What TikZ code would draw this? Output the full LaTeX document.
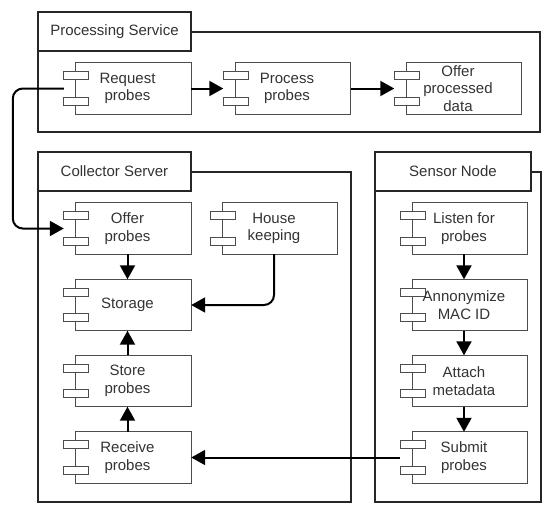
\documentclass[tikz,border=0pt]{standalone}
\usepackage{fontspec}
\setmainfont{Liberation Sans}
\usetikzlibrary{arrows.meta,backgrounds}

\begin{document}
\begin{tikzpicture}[x=1pt,y=-1pt,
  every node/.style={font=\fontsize{15}{17.5}\selectfont,text=black!80},
  frame/.style={draw=black!85,line width=2pt},
  tab/.style={frame,fill=white,minimum height=39pt,inner sep=0pt},
  comp/.style={minimum width=127pt,minimum height=51pt,inner sep=0pt,align=center},
  part/.style={draw=black!70,line width=1.3pt,fill=white},
  flow/.style={draw=black,line width=2pt,-{Triangle[length=14pt,width=15pt]}}]
\useasboundingbox (0,0) rectangle (550,512);

\draw[frame] (38,31.5) rectangle (540,132);
\draw[frame] (38,172) rectangle (351,502);
\draw[frame] (375,171.5) rectangle (541,502);
\node[tab,minimum width=153pt] (pstab) at (114.5,31.5) {Processing Service};
\node[tab,minimum width=153pt] (cstab) at (114.5,171.5) {Collector Server};
\node[tab,minimum width=156pt] (sntab) at (453,171.5) {Sensor Node};

\node[comp] (req) at (127.5,88.5) {Request\\probes};
\node[comp] (proc) at (287,88.5) {Process\\probes};
\node[comp] (offd) at (458,88.5) {Offer\\processed\\data};

\node[comp] (off) at (127.5,228.5) {Offer\\probes};
\node[comp] (hk) at (274,228.5) {House\\keeping};
\node[comp] (sto) at (127.5,305) {Storage};
\node[comp] (stp) at (127.5,381) {Store\\probes};
\node[comp] (rcv) at (127.5,457.5) {Receive\\probes};

\node[comp] (lis) at (464,228.5) {Listen for\\probes};
\node[comp] (ano) at (464,305) {Annonymize\\MAC ID};
\node[comp] (att) at (464,381) {Attach\\metadata};
\node[comp] (sub) at (464,457.5) {Submit\\probes};

\begin{pgfonlayer}{background}
\foreach \n in {req,proc,offd,off,hk,sto,stp,rcv,lis,ano,att,sub} {
  \draw[part,fill=none] ([xshift=12pt]\n.north west) rectangle (\n.south east);
  \draw[part] ([yshift=-9pt]\n.north west) rectangle ++(25pt,-8pt);
  \draw[part] ([yshift=9pt]\n.south west) rectangle ++(25pt,8pt);
}
\end{pgfonlayer}

\draw[flow] (req) -- (proc);
\draw[flow] (proc) -- (offd);
\draw[flow,rounded corners=10pt] (req.west) -- ++(-51pt,0pt) |- (off.west);
\draw[flow] (off) -- (sto);
\draw[flow,rounded corners=10pt] (hk.south) |- (sto.east);
\draw[flow] (stp) -- (sto);
\draw[flow] (rcv) -- (stp);
\draw[flow] (lis) -- (ano);
\draw[flow] (ano) -- (att);
\draw[flow] (att) -- (sub);
\draw[flow] (sub) -- (rcv);
\end{tikzpicture}
\end{document}
